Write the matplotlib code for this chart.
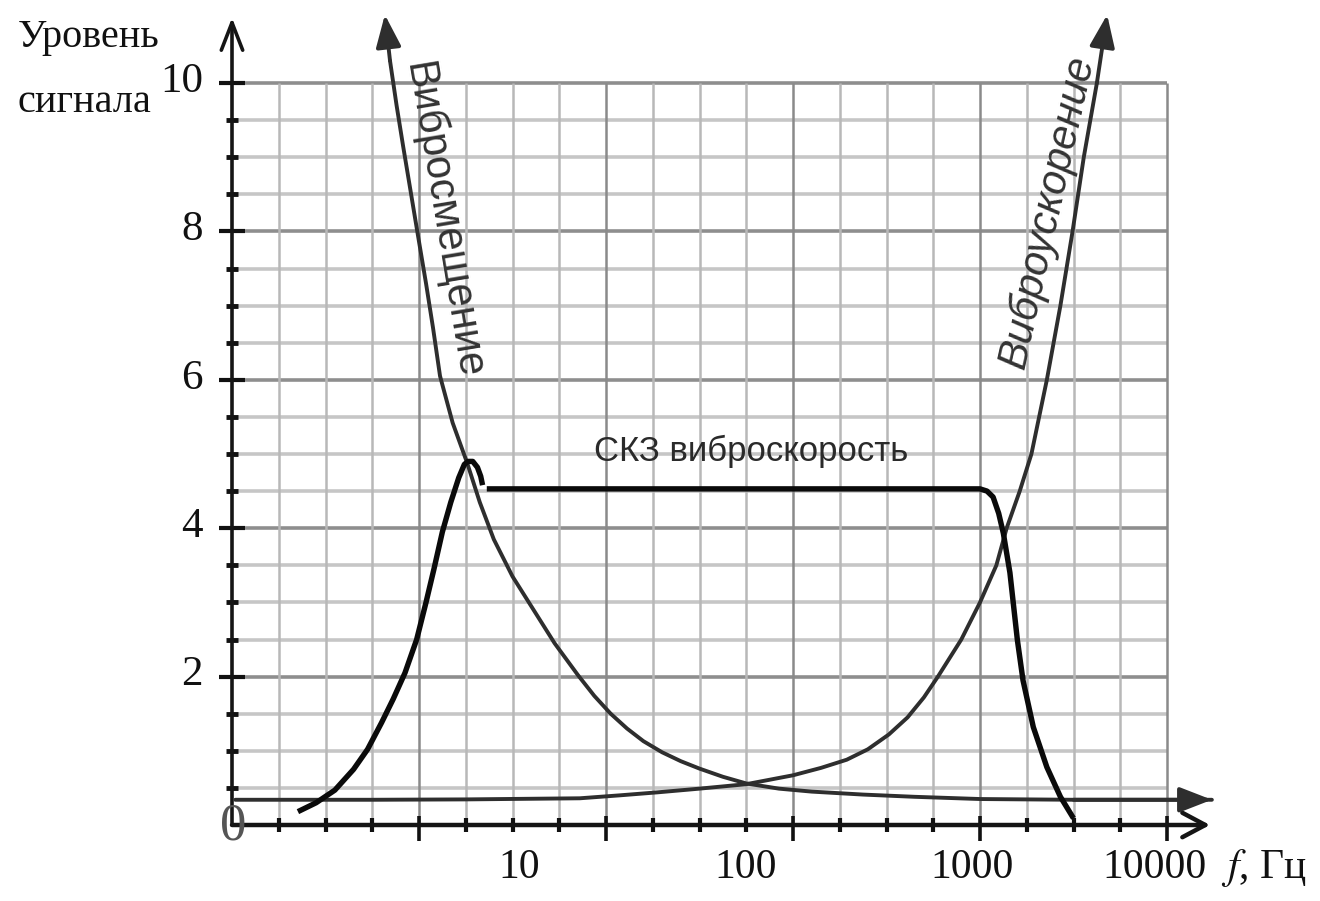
import matplotlib
matplotlib.use('Agg')
import matplotlib.pyplot as plt
import numpy as np

# ---------------- data (x in grid-cell units 0..20, y = signal level) -------------
y_tick_values = [2, 4, 6, 8, 10]
y_tick_labels = ['2', '4', '6', '8', '10']
x_label_pos = [6.14, 10.99, 15.83, 19.74]
x_labels = ['10', '100', '1000', '10000']

# Виброcмещение (displacement) – falls from top-left to the low asymptote
disp_x = [3.27, 3.38, 3.52, 3.66, 3.80, 3.95, 4.15, 4.30, 4.45, 4.72, 5.03, 5.30,
          5.60, 6.00, 6.40, 6.90, 7.40, 7.75, 8.10, 8.45, 8.80, 9.20, 9.60,
          10.00, 10.50, 11.00, 11.70, 12.40, 13.50, 14.60, 16.00, 18.00, 20.96]
disp_y = [10.92, 10.30, 9.70, 9.15, 8.62, 8.05, 7.30, 6.70, 6.05, 5.42, 4.88, 4.35,
          3.85, 3.35, 2.95, 2.45, 2.02, 1.74, 1.50, 1.30, 1.13, 0.98, 0.86,
          0.76, 0.65, 0.56, 0.49, 0.45, 0.41, 0.38, 0.35, 0.34, 0.34]

# Виброускорение (acceleration) – rises from the low asymptote to the top-right
acc_x = [0.07, 3.00, 5.00, 7.44, 8.30, 9.10, 10.00, 11.00, 12.00, 12.60, 13.15,
         13.60, 14.05, 14.45, 14.80, 15.10, 15.60, 16.00, 16.35, 16.57, 16.85,
         17.10, 17.43, 17.72, 17.98, 18.22, 18.50, 18.72]
acc_y = [0.34, 0.34, 0.345, 0.36, 0.40, 0.44, 0.49, 0.55, 0.67, 0.77, 0.88,
         1.02, 1.22, 1.45, 1.72, 2.00, 2.50, 3.00, 3.50, 4.00, 4.50,
         5.00, 6.00, 7.00, 8.00, 9.00, 10.00, 10.92]

# СКЗ виброскорость (RMS velocity) – rising branch with hook
vel_rise_x = [1.41, 1.80, 2.20, 2.60, 2.90, 3.20, 3.45, 3.70, 3.95, 4.15, 4.32,
              4.50, 4.68, 4.85, 4.97, 5.05, 5.15, 5.25, 5.32, 5.36]
vel_rise_y = [0.18, 0.30, 0.47, 0.75, 1.02, 1.38, 1.70, 2.05, 2.50, 3.00, 3.45,
              3.95, 4.35, 4.68, 4.86, 4.90, 4.90, 4.82, 4.70, 4.58]
# plateau and fall-off
vel_flat_x = [5.45, 16.00, 16.15, 16.28, 16.40, 16.50, 16.64, 16.80, 16.92,
              17.14, 17.43, 17.72, 18.00]
vel_flat_y = [4.53, 4.53, 4.50, 4.42, 4.20, 3.93, 3.40, 2.49, 1.95,
              1.32, 0.78, 0.38, 0.09]

# ---------------- figure -------------
PX, PY = 46.75, 74.2          # pixels per unit
X0, Y0 = 232, 76              # origin position (pixels from left / bottom)
W, H = 1320, 901

fig = plt.figure(figsize=(W / 100, H / 100), dpi=100)
ax = fig.add_axes([0, 0, 1, 1])
ax.set_xlim(-X0 / PX, (W - X0) / PX)
ax.set_ylim(-Y0 / PY, (H - Y0) / PY)
ax.axis('off')

serif = ['Liberation Serif', 'DejaVu Serif']
sans = ['Liberation Sans', 'DejaVu Sans']

# grid
for yv in np.arange(0.5, 10.01, 0.5):
    major = abs(yv % 2) < 1e-9
    ax.plot([0, 20], [yv, yv], color='#8e8e8e' if major else '#c6c6c6',
            lw=2.6, zorder=1, solid_capstyle='butt')
for k in range(1, 21):
    major = k % 4 == 0
    ax.plot([k, k], [0, 10], color='#8a8a8a' if major else '#b8b8b8',
            lw=1.8, zorder=1, solid_capstyle='butt')

# axis ticks
for yv in np.arange(0.5, 10.01, 0.5):
    major = abs(yv % 2) < 1e-9
    if major:
        ax.plot([-0.27, 0.28], [yv, yv], color='#111111', lw=3.0, zorder=3,
                solid_capstyle='butt')
    else:
        ax.plot([-0.12, 0.12], [yv, yv], color='#111111', lw=3.5, zorder=3,
                solid_capstyle='butt')
for k in range(1, 21):
    if k % 4 == 0:
        ax.plot([k, k], [-0.22, 0.12], color='#111111', lw=2.6, zorder=3,
                solid_capstyle='butt')
    else:
        ax.plot([k, k], [-0.1, 0.1], color='#111111', lw=3.0, zorder=3,
                solid_capstyle='butt')

# axes with open arrows
ax.annotate('', xy=(20.92, 0), xytext=(0, 0), zorder=4,
            arrowprops=dict(arrowstyle='->,head_length=0.75,head_width=0.4',
                            lw=3.2, color='#151515', shrinkA=0, shrinkB=0,
                            mutation_scale=22))
ax.annotate('', xy=(0, 10.88), xytext=(0, 0), zorder=4,
            arrowprops=dict(arrowstyle='->,head_length=0.9,head_width=0.35',
                            lw=2.6, color='#151515', shrinkA=0, shrinkB=0,
                            mutation_scale=22))

# curves
curve_col = '#2e2e2e'
ax.plot(disp_x[1:], disp_y[1:], color=curve_col, lw=2.8, zorder=5,
        solid_capstyle='round', solid_joinstyle='round')
ax.annotate('', xy=(disp_x[0], disp_y[0]), xytext=(disp_x[1], disp_y[1]), zorder=5,
            arrowprops=dict(arrowstyle='-|>,head_length=0.9,head_width=0.35',
                            lw=2.8, color=curve_col, shrinkA=0, shrinkB=0,
                            mutation_scale=22))
ax.annotate('', xy=(disp_x[-1], disp_y[-1]), xytext=(disp_x[-2], disp_y[-2]), zorder=5,
            arrowprops=dict(arrowstyle='-|>,head_length=0.9,head_width=0.35',
                            lw=2.8, color=curve_col, shrinkA=0, shrinkB=0,
                            mutation_scale=22))

ax.plot(acc_x[:-1], acc_y[:-1], color=curve_col, lw=2.8, zorder=5,
        solid_capstyle='round', solid_joinstyle='round')
ax.annotate('', xy=(acc_x[-1], acc_y[-1]), xytext=(acc_x[-2], acc_y[-2]), zorder=5,
            arrowprops=dict(arrowstyle='-|>,head_length=0.9,head_width=0.35',
                            lw=2.8, color=curve_col, shrinkA=0, shrinkB=0,
                            mutation_scale=22))

vel_col = '#0a0a0a'
ax.plot(vel_rise_x, vel_rise_y, color=vel_col, lw=3.9, zorder=6,
        solid_capstyle='butt', solid_joinstyle='round')
ax.plot(vel_flat_x, vel_flat_y, color=vel_col, lw=3.9, zorder=6,
        solid_capstyle='butt', solid_joinstyle='round')

# texts
ax.text(-4.58, 10.49, 'Уровень', family=serif, fontsize=29, color='#111111',
        ha='left', va='baseline')
ax.text(-4.58, 9.61, 'сигнала', family=serif, fontsize=29, color='#111111',
        ha='left', va='baseline')

for v, lab in zip(y_tick_values, y_tick_labels):
    ax.text(-0.62, v + 0.02, lab, family=serif, fontsize=31, color='#111111',
            ha='right', va='center')
ax.text(0.02, -0.02, '0', family=serif, fontsize=38, color='#555555',
        ha='center', va='center', zorder=7)

for p, lab in zip(x_label_pos, x_labels):
    ax.text(p, -0.58, lab, family=serif, fontsize=30, color='#111111',
            ha='center', va='center')
ax.text(22.08, -0.58, '$\\mathit{f}$, Гц', family=serif, fontsize=30, color='#111111',
        ha='center', va='center', math_fontfamily='stix')

ax.text(4.51, 8.15, 'Вибросмещение', family=sans, fontsize=30, color='#333333',
        rotation=-80.5, rotation_mode='anchor', ha='center', va='center')
ax.text(17.45, 8.26, 'Виброускорение', family=sans, fontsize=30, color='#333333',
        style='italic', rotation=77.4, rotation_mode='anchor', ha='center', va='center')
ax.text(11.1, 5.03, 'СКЗ виброскорость', family=sans, fontsize=25, color='#2a2a2a',
        ha='center', va='center')

fig.savefig('out.png', dpi=100, facecolor='white')
